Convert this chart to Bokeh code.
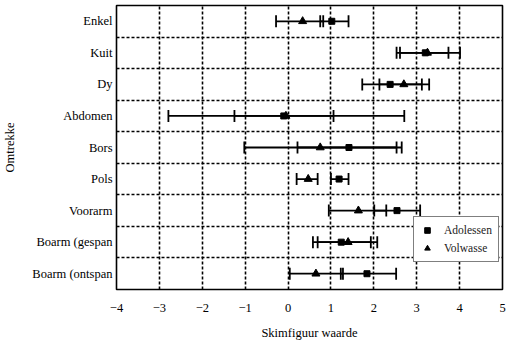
from math import pi

from bokeh.embed import file_html
from bokeh.models import ColumnDataSource, FixedTicker, Legend, LegendItem
from bokeh.plotting import figure
from bokeh.resources import INLINE

# Body sites, listed top to bottom
categories = ["Enkel", "Kuit", "Dy", "Abdomen", "Bors", "Pols", "Voorarm",
              "Boarm (gespan", "Boarm (ontspan"]

# Adolescents: mean and error-bar limits
adol_mean = [1.02, 3.20, 2.38, -0.10, 1.42, 1.19, 2.54, 1.24, 1.84]
adol_low = [0.75, 2.61, 1.73, -1.25, 0.22, 1.00, 2.01, 0.58, 1.23]
adol_high = [1.41, 3.74, 3.12, 1.06, 2.65, 1.41, 3.08, 1.93, 2.52]

# Adults: mean and error-bar limits
adult_mean = [0.34, 3.25, 2.70, -0.05, 0.75, 0.47, 1.64, 1.40, 0.65]
adult_low = [-0.28, 2.53, 2.13, -2.79, -1.02, 0.20, 0.95, 0.69, 0.04]
adult_high = [0.82, 4.01, 3.29, 2.71, 2.53, 0.69, 2.29, 2.08, 1.28]

x_ticks = [-4, -3, -2, -1, 0, 1, 2, 3, 4, 5]
legend_labels = ["Adolessen", "Volwasse"]

FONT = "Liberation Serif"
n = len(categories)
ypos = [n - 1 - i for i in range(n)]  # first category at the top

p = figure(width=512, height=349, output_backend="svg", toolbar_location=None,
           x_range=(-4, 5), y_range=(-0.5, n - 0.5),
           min_border_left=116, min_border_right=10,
           min_border_top=5, min_border_bottom=60)
p.background_fill_color = "white"
p.border_fill_color = "white"
p.outline_line_color = "black"
p.outline_line_width = 1.6

# axes
p.xaxis.ticker = FixedTicker(ticks=x_ticks)
p.yaxis.ticker = FixedTicker(ticks=ypos)
p.yaxis.major_label_overrides = {y: c for y, c in zip(ypos, categories)}
for ax in (p.xaxis[0], p.yaxis[0]):
    ax.axis_line_color = None
    ax.major_tick_line_color = None
    ax.minor_tick_line_color = None
    ax.major_tick_out = 0
    ax.major_tick_in = 0
    ax.minor_tick_out = 0
    ax.minor_tick_in = 0
    ax.major_label_text_font = FONT
    ax.major_label_text_font_size = "12.5px"
    ax.major_label_text_color = "black"
    ax.axis_label_text_font = FONT
    ax.axis_label_text_font_size = "12.5px"
    ax.axis_label_text_font_style = "normal"
    ax.axis_label_text_color = "black"
p.xaxis.axis_label = "Skimfiguur waarde"
p.xaxis.major_label_standoff = 14
p.xaxis.axis_label_standoff = 11
p.yaxis.axis_label = "Omtrekke"
p.yaxis.major_label_standoff = 4
p.yaxis.axis_label_standoff = 12

# dashed grid: vertical at integer values, horizontal between categories
p.xgrid.grid_line_color = "black"
p.xgrid.grid_line_dash = "3 2"
p.xgrid.grid_line_width = 1.6
p.ygrid.ticker = FixedTicker(ticks=[k + 0.5 for k in range(n - 1)])
p.ygrid.grid_line_color = "black"
p.ygrid.grid_line_dash = "3 2"
p.ygrid.grid_line_width = 1.6

def draw_series(mean, low, high, marker, size):
    src = ColumnDataSource(dict(y=ypos, m=mean, lo=low, hi=high))
    p.segment(x0="lo", x1="hi", y0="y", y1="y", source=src,
              line_color="black", line_width=1.8)
    for col in ("lo", "hi"):
        p.scatter(x=col, y="y", source=src, marker="dash", size=12,
                  angle=pi / 2, line_color="black", line_width=1.8)
    return p.scatter(x="m", y="y", source=src, marker=marker, size=size,
                     fill_color="black", line_color="black")

r_adol = draw_series(adol_mean, adol_low, adol_high, "square", 6)
r_adult = draw_series(adult_mean, adult_low, adult_high, "triangle", 8)

legend = Legend(items=[LegendItem(label=legend_labels[0], renderers=[r_adol]),
                       LegendItem(label=legend_labels[1], renderers=[r_adult])],
                location=(297, 27), orientation="vertical")
legend.label_text_font = FONT
legend.label_text_font_size = "11.5px"
legend.label_text_color = "#222222"
legend.border_line_color = "black"
legend.border_line_width = 1.5
legend.background_fill_color = "white"
legend.background_fill_alpha = 1.0
legend.padding = 6
legend.spacing = 4
legend.margin = 0
legend.glyph_width = 14
legend.glyph_height = 14
legend.label_height = 14
legend.label_standoff = 10
p.add_layout(legend, "center")

open("out.html", "w").write(file_html(p, INLINE))
